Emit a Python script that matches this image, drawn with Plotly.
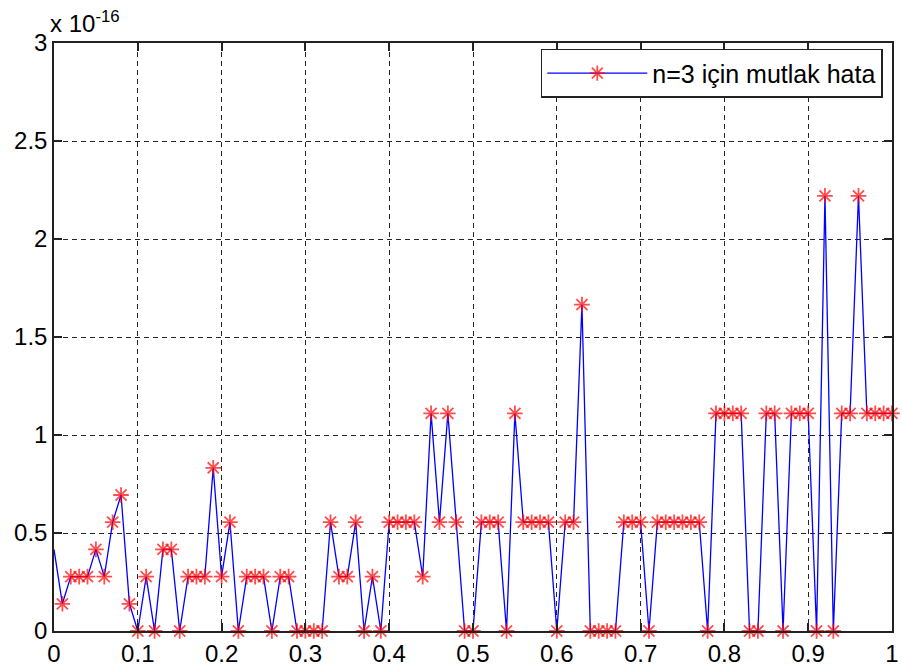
import plotly.graph_objects as go

# x positions (0 to 1, step 0.01)
x_values = [round(i * 0.01, 2) for i in range(101)]

# absolute error, in units of 1e-16
error_values = [
    0.4163, 0.1388, 0.2776, 0.2776, 0.2776, 0.4163, 0.2776, 0.5551, 0.6939, 0.1388,
    0.0, 0.2776, 0.0, 0.4163, 0.4163, 0.0, 0.2776, 0.2776, 0.2776, 0.8327,
    0.2776, 0.5551, 0.0, 0.2776, 0.2776, 0.2776, 0.0, 0.2776, 0.2776, 0.0,
    0.0, 0.0, 0.0, 0.5551, 0.2776, 0.2776, 0.5551, 0.0, 0.2776, 0.0,
    0.5551, 0.5551, 0.5551, 0.5551, 0.2776, 1.1102, 0.5551, 1.1102, 0.5551, 0.0,
    0.0, 0.5551, 0.5551, 0.5551, 0.0, 1.1102, 0.5551, 0.5551, 0.5551, 0.5551,
    0.0, 0.5551, 0.5551, 1.6653, 0.0, 0.0, 0.0, 0.0, 0.5551, 0.5551,
    0.5551, 0.0, 0.5551, 0.5551, 0.5551, 0.5551, 0.5551, 0.5551, 0.0, 1.1102,
    1.1102, 1.1102, 1.1102, 0.0, 0.0, 1.1102, 1.1102, 0.0, 1.1102, 1.1102,
    1.1102, 0.0, 2.2204, 0.0, 1.1102, 1.1102, 2.2204, 1.1102, 1.1102, 1.1102,
    1.1102,
]

x_ticks = [0, 0.1, 0.2, 0.3, 0.4, 0.5, 0.6, 0.7, 0.8, 0.9, 1]
x_tick_labels = ["0", "0.1", "0.2", "0.3", "0.4", "0.5", "0.6", "0.7", "0.8", "0.9", "1"]
y_ticks = [0, 0.5, 1, 1.5, 2, 2.5, 3]
y_tick_labels = ["0", "0.5", "1", "1.5", "2", "2.5", "3"]

series_name = "n=3 için mutlak hata"
exponent_text = "x 10<sup>-16</sup>"

FONT = "Liberation Sans, Arial, sans-serif"
FS = 24

marker_sizes = [0] + [13] * (len(x_values) - 1)

fig = go.Figure()
fig.add_trace(go.Scatter(
    x=x_values, y=error_values, mode="lines+markers", name=series_name,
    line=dict(color="#0000ff", width=1.3),
    marker=dict(symbol="asterisk-open", size=marker_sizes,
                line=dict(color="#ff0000", width=1.8), color="#ff0000"),
    cliponaxis=False,
))

axis_common = dict(
    showline=True, linecolor="#222222", linewidth=1.5, mirror="ticks",
    ticks="inside", ticklen=8, tickcolor="#222222", tickwidth=1.5,
    showgrid=True, gridcolor="#262626", gridwidth=1.3, griddash="5px,4px",
    zeroline=False, automargin=False,
    tickfont=dict(family=FONT, size=FS, color="#000000"),
)

fig.update_xaxes(range=[0, 1], tickvals=x_ticks, ticktext=x_tick_labels, **axis_common)
fig.update_yaxes(range=[0, 3], tickvals=y_ticks, ticktext=y_tick_labels, **axis_common)

fig.add_annotation(
    xref="paper", yref="paper", x=0, y=1, xanchor="left", yanchor="bottom",
    yshift=4, xshift=-6, showarrow=False, text=exponent_text,
    font=dict(family=FONT, size=FS, color="#000000"),
)

fig.update_layout(
    width=902, height=669,
    margin=dict(l=54, r=10, t=43, b=38, autoexpand=False),
    paper_bgcolor="white", plot_bgcolor="white",
    font=dict(family=FONT, size=FS, color="#000000"),
    showlegend=True,
    legend=dict(
        x=0.989, y=0.99, xanchor="right", yanchor="top",
        bgcolor="white", bordercolor="#222222", borderwidth=1.5,
        font=dict(family=FONT, size=25, color="#000000"),
        itemwidth=100,
    ),
)

fig.write_html(
    "out.html",
    config={"displayModeBar": False},
    post_script="document.body.style.margin='0';document.body.style.padding='0';",
)
